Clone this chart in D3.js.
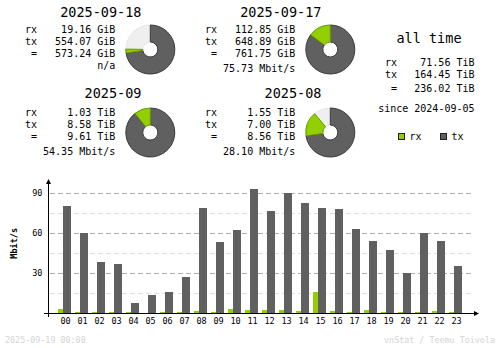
<!DOCTYPE html>
<html>
<head>
<meta charset="utf-8">
<script src="https://cdn.jsdelivr.net/npm/d3@7/dist/d3.min.js"></script>
<style>
  html, body { margin: 0; padding: 0; background: #fff; }
  svg { display: block; }
  text { font-family: "DejaVu Sans Mono", "Liberation Mono", monospace; }
</style>
</head>
<body>
<svg id="chart" width="500" height="348"></svg>
<script>
// ---- data ---------------------------------------------------------------
const hourLabels = ["00","01","02","03","04","05","06","07","08","09","10","11",
                    "12","13","14","15","16","17","18","19","20","21","22","23"];
const rxMbit = [3.3, 1.0, 1.0, 1.0, 1.0, 0.0, 1.0, 1.0, 1.8, 1.0, 3.3, 2.5,
                2.5, 2.5, 1.8, 16.0, 1.8, 1.0, 2.5, 1.0, 1.0, 1.0, 1.8, 1.0];
const txMbit = [80.7, 60.0, 38.7, 37.2, 8.0, 14.0, 16.2, 27.5, 79.2, 53.7, 62.7, 93.2,
                77.0, 90.5, 83.0, 79.2, 78.5, 63.5, 54.5, 47.7, 30.5, 60.5, 54.5, 35.7];
const yTicks = [30, 60, 90];
const yMinorTicks = [15, 45, 75];

const periodTitles = ["2025-09-18", "2025-09-17", "2025-09", "2025-08"];
const periodRx     = [19.16, 112.85, 1.03, 1.55];
const periodTx     = [554.07, 648.89, 8.58, 7.00];
const periodTotal  = [573.24, 761.75, 9.61, 8.56];
const periodUnit   = ["GiB", "GiB", "TiB", "TiB"];
const periodRate   = ["n/a", "75.73 Mbit/s", "54.35 Mbit/s", "28.10 Mbit/s"];

const allTimeRx = 71.56, allTimeTx = 164.45, allTimeTotal = 236.02;
const sinceDate = "2024-09-05";
const footerLeft = "2025-09-19 00:00";
const footerRight = "vnStat / Teemu Toivola";

// ---- colours ------------------------------------------------------------
const cRx = "#92cf00", cRxEdge = "#6b9a00";
const cTx = "#606060", cTxEdge = "#3c3c3c";
const cRest = "#efefef";
const cLine = "#b0b0b0", cLineL = "#dedede";
const cText = "#000";
const cFooter = "#d4d4d4";

const svg = d3.select("#chart");

// ---- summary blocks -----------------------------------------------------
// each block: title, rx/tx/= rows, rate line, donut
const blockOrigins = [[0, 0], [180, 0], [0, 83], [180, 83]];
const titleDy = [0, 0, -1.5, -1.5];
const pairMax = [Math.max(periodTotal[0], periodTotal[1]), Math.max(periodTotal[0], periodTotal[1]),
                 Math.max(periodTotal[2], periodTotal[3]), Math.max(periodTotal[2], periodTotal[3])];

const arc = d3.arc().innerRadius(7.5).outerRadius(24.5);
const tau = 2 * Math.PI;

periodTitles.forEach((title, i) => {
  const [ox, oy] = blockOrigins[i];
  const g = svg.append("g").attr("transform", `translate(${ox},${oy})`);

  g.append("text")
    .attr("x", 141.5).attr("y", 16.7 + titleDy[i])
    .attr("text-anchor", "end")
    .attr("font-size", 13.5).attr("fill", cText)
    .text(title);

  const rows = [
    ["rx", periodRx[i].toFixed(2) + " " + periodUnit[i]],
    ["tx", periodTx[i].toFixed(2) + " " + periodUnit[i]],
    ["=",  periodTotal[i].toFixed(2) + " " + periodUnit[i]]
  ];
  rows.forEach((r, k) => {
    const y = 32.8 + k * 12.2;
    g.append("text").attr("x", 37).attr("y", y).attr("text-anchor", "end")
      .attr("font-size", 10).attr("fill", cText).text(r[0]);
    g.append("text").attr("x", 115.3).attr("y", y).attr("text-anchor", "end")
      .attr("font-size", 10).attr("fill", cText).text(r[1]);
  });
  g.append("text").attr("x", 115.3).attr("y", periodRate[i] === "n/a" ? 69.2 : 72.4)
    .attr("text-anchor", "end").attr("font-size", 10).attr("fill", cText)
    .text(periodRate[i]);

  // donut: tx from 12 o'clock clockwise, then rx, remainder left light
  const pie = g.append("g").attr("transform", `translate(150.3,49.5)`);
  const txEnd = periodTx[i] / pairMax[i] * tau;
  const rxEnd = txEnd + periodRx[i] / pairMax[i] * tau;
  pie.append("path").attr("d", arc({startAngle: 0, endAngle: tau}))
    .attr("fill", cRest).attr("stroke", "#e2e2e2").attr("stroke-width", 0.8);
  pie.append("path").attr("d", arc({startAngle: 0, endAngle: txEnd}))
    .attr("fill", cTx).attr("stroke", cTxEdge).attr("stroke-width", 1);
  pie.append("path").attr("d", arc({startAngle: txEnd, endAngle: rxEnd}))
    .attr("fill", cRx).attr("stroke", cRxEdge).attr("stroke-width", 1);
});

// ---- all time block -----------------------------------------------------
const at = svg.append("g");
at.append("text").attr("x", 429).attr("y", 43.3).attr("text-anchor", "middle")
  .attr("font-size", 13.5).attr("fill", cText).text("all time");
[["rx", allTimeRx, 65.7], ["tx", allTimeTx, 77.8], ["=", allTimeTotal, 91.5]].forEach(r => {
  at.append("text").attr("x", 397).attr("y", r[2]).attr("text-anchor", "end")
    .attr("font-size", 10).attr("fill", cText).text(r[0]);
  at.append("text").attr("x", 474.5).attr("y", r[2]).attr("text-anchor", "end")
    .attr("font-size", 10).attr("fill", cText).text(r[1].toFixed(2) + " TiB");
});
at.append("text").attr("x", 474.5).attr("y", 111.6).attr("text-anchor", "end")
  .attr("font-size", 10).attr("fill", cText).text("since " + sinceDate);

// legend
const legend = [["rx", cRx, cRxEdge, 398.5], ["tx", cTx, "#333", 440.5]];
legend.forEach(l => {
  at.append("rect").attr("x", l[3]).attr("y", 133.5).attr("width", 6).attr("height", 6)
    .attr("fill", l[1]).attr("stroke", "#202020").attr("stroke-width", 1)
    .attr("shape-rendering", "crispEdges");
  at.append("text").attr("x", l[3] + 11).attr("y", 139.8)
    .attr("font-size", 10).attr("fill", cText).text(l[0]);
});

// ---- hourly bar chart ---------------------------------------------------
const x = d3.scaleBand().domain(hourLabels).range([56, 464]).paddingInner(0).paddingOuter(0);
const y = d3.scaleLinear().domain([0, 90]).range([313.3, 193.3]);
const axisX = 48.5, baseY = 313.5;

const chart = svg.append("g");

// grid lines
yMinorTicks.forEach(v => {
  chart.append("line").attr("x1", axisX + 1).attr("x2", 472)
    .attr("y1", Math.round(y(v)) + 0.5).attr("y2", Math.round(y(v)) + 0.5)
    .attr("stroke", cLineL).attr("stroke-dasharray", "5,3")
    .attr("shape-rendering", "crispEdges");
});
yTicks.forEach(v => {
  chart.append("line").attr("x1", axisX + 1).attr("x2", 472)
    .attr("y1", Math.round(y(v)) + 0.5).attr("y2", Math.round(y(v)) + 0.5)
    .attr("stroke", cLine).attr("stroke-dasharray", "5,3")
    .attr("shape-rendering", "crispEdges");
  chart.append("text").attr("x", 42.5).attr("y", y(v)).attr("dy", "0.34em")
    .attr("text-anchor", "end").attr("font-size", 8.5).attr("fill", cText)
    .text(v);
});

// bars
chart.selectAll("rect.rx").data(hourLabels).join("rect")
  .attr("class", "rx")
  .attr("x", d => x(d) + 2).attr("width", 5)
  .attr("y", (d, i) => y(rxMbit[i]))
  .attr("height", (d, i) => y(0) - y(rxMbit[i]))
  .attr("fill", cRx).attr("shape-rendering", "crispEdges");
chart.selectAll("rect.tx").data(hourLabels).join("rect")
  .attr("class", "tx")
  .attr("x", d => x(d) + 7).attr("width", 8)
  .attr("y", (d, i) => y(txMbit[i]))
  .attr("height", (d, i) => y(0) - y(txMbit[i]))
  .attr("fill", cTx).attr("shape-rendering", "crispEdges");

// axes with arrow heads
chart.append("line").attr("x1", axisX).attr("x2", axisX).attr("y1", 317).attr("y2", 182)
  .attr("stroke", "#000").attr("shape-rendering", "crispEdges");
chart.append("path").attr("d", `M${axisX},179 L${axisX - 2.5},184 L${axisX + 2.5},184 Z`)
  .attr("fill", "#000");
chart.append("line").attr("x1", 44).attr("x2", 475).attr("y1", baseY).attr("y2", baseY)
  .attr("stroke", "#000").attr("shape-rendering", "crispEdges");
chart.append("path").attr("d", `M479,${baseY} L474,${baseY - 2.5} L474,${baseY + 2.5} Z`)
  .attr("fill", "#000");

// hour labels
chart.selectAll("text.hour").data(hourLabels).join("text")
  .attr("class", "hour")
  .attr("x", d => x(d) + 9.5).attr("y", 324)
  .attr("text-anchor", "middle").attr("font-size", 8.5).attr("fill", cText)
  .text(d => d);

// unit label
chart.append("text")
  .attr("transform", "translate(17.3,243.3) rotate(-90)")
  .attr("text-anchor", "middle").attr("font-size", 8.5).attr("font-weight", "bold")
  .attr("fill", cText).text("Mbit/s");

// ---- footer -------------------------------------------------------------
svg.append("text").attr("x", 5).attr("y", 342.6).attr("font-size", 8.4)
  .attr("fill", cFooter).text(footerLeft);
svg.append("text").attr("x", 495).attr("y", 342.6).attr("text-anchor", "end")
  .attr("font-size", 8.4).attr("fill", cFooter).text(footerRight);
</script>
</body>
</html>
